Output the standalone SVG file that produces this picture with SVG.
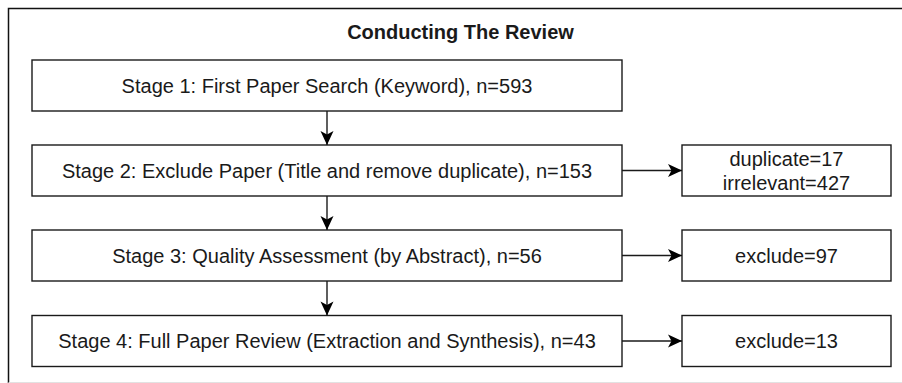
<svg xmlns="http://www.w3.org/2000/svg" width="902" height="383" viewBox="0 0 902 383">
  <style>
    .box { fill: #ffffff; stroke: #1a1a1a; stroke-width: 1.4; }
    .txt { font-family: "Liberation Sans", Arial, sans-serif; font-size: 20px; fill: #1a1a1a; text-anchor: middle; }
    .title { font-weight: bold; }
    .conn { stroke: #1a1a1a; stroke-width: 1.4; fill: none; marker-end: url(#arrow); }
  </style>
  <defs>
    <marker id="arrow" markerUnits="userSpaceOnUse" markerWidth="16" markerHeight="16" viewBox="0 0 16 16" refX="15" refY="8" orient="auto">
      <path d="M1,1.5 L15,8 L1,14.5 L4.5,8 Z" fill="#000000"/>
    </marker>
  </defs>
  <rect x="0" y="0" width="902" height="383" fill="#ffffff"/>
  <g id="frame">
    <path d="M8.5,383 L8.5,8.5 L902,8.5" fill="none" stroke="#111111" stroke-width="1.5"/>
    <path d="M8.5,382.5 L902,382.5" fill="none" stroke="#e2e2e2" stroke-width="1"/>
  </g>
  <text id="title" class="txt title" x="460.5" y="38.5">Conducting The Review</text>

  <g id="stage1">
    <rect class="box" x="32" y="60" width="590" height="51"/>
    <text class="txt" x="327" y="92.5">Stage 1: First Paper Search (Keyword), n=593</text>
  </g>
  <g id="stage2">
    <rect class="box" x="32" y="145" width="590" height="51"/>
    <text class="txt" x="327" y="177.5">Stage 2: Exclude Paper (Title and remove duplicate), n=153</text>
  </g>
  <g id="stage3">
    <rect class="box" x="32" y="230" width="590" height="51"/>
    <text class="txt" x="327" y="262.5">Stage 3: Quality Assessment (by Abstract), n=56</text>
  </g>
  <g id="stage4">
    <rect class="box" x="32" y="315.5" width="590" height="51"/>
    <text class="txt" x="327" y="348">Stage 4: Full Paper Review (Extraction and Synthesis), n=43</text>
  </g>

  <g id="excl2">
    <rect class="box" x="682" y="145" width="209" height="51"/>
    <text class="txt" x="786.5" y="165.5">duplicate=17</text>
    <text class="txt" x="786.5" y="189.5">irrelevant=427</text>
  </g>
  <g id="excl3">
    <rect class="box" x="682" y="230" width="209" height="51"/>
    <text class="txt" x="786.5" y="262.5">exclude=97</text>
  </g>
  <g id="excl4">
    <rect class="box" x="682" y="315.5" width="209" height="51"/>
    <text class="txt" x="786.5" y="348">exclude=13</text>
  </g>

  <g id="connectors">
    <path class="conn" d="M327,111 L327,145"/>
    <path class="conn" d="M327,196 L327,230"/>
    <path class="conn" d="M327,281 L327,315.5"/>
    <path class="conn" d="M622,170.5 L682,170.5"/>
    <path class="conn" d="M622,255.5 L682,255.5"/>
    <path class="conn" d="M622,341 L682,341"/>
  </g>
</svg>
